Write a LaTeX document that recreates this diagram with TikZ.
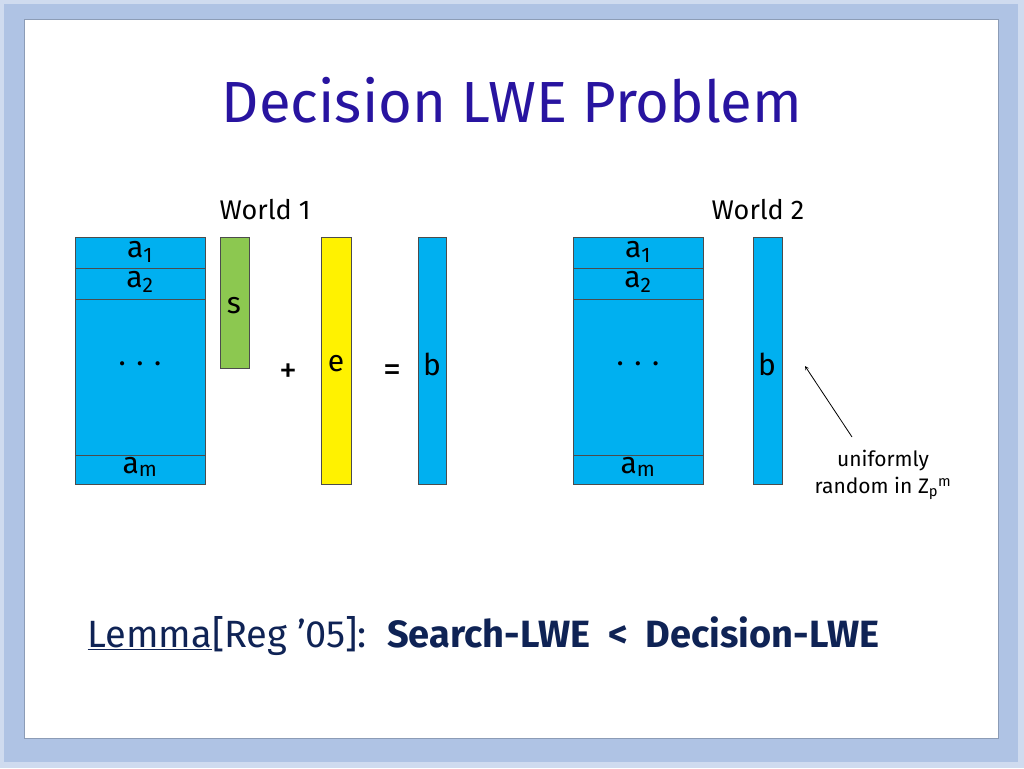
\documentclass[tikz,border=0pt]{standalone}
\usepackage{fontspec}
\setmainfont{Fira Sans}
\begin{document}
\begin{tikzpicture}[x=1pt,y=-1pt,
  cell/.style={draw=black!70,line width=0.6pt,fill=cyanb},
  lbl/.style={font=\fontsize{30}{32}\selectfont,text=black},
  world/.style={font=\fontsize{27}{29}\selectfont}]
\definecolor{cyanb}{RGB}{0,176,240}
\definecolor{frame}{RGB}{175,195,228}
\definecolor{ttl}{RGB}{40,20,160}
\definecolor{navy}{RGB}{15,35,85}
\useasboundingbox (0,0) rectangle (1024,768);
\fill[frame!60] (0,0) rectangle (1024,768);
\fill[frame] (4,4) rectangle (1018,762);
\fill[white] (24,20) rectangle (998,738);
\draw[frame!80!black,line width=1pt] (24,20) rectangle (998,738);
\node[text=ttl,font=\fontsize{58}{62}\selectfont] (title) at (512,100) {Decision LWE Problem};
\node[world] (w1) at (265,210) {World 1};
\node[world] (w2) at (758,210) {World 2};
% left
\draw[cell] (75,237) rectangle (205,484);
\draw[black!70] (75,268) -- (205,268) (75,299) -- (205,299) (75,455) -- (205,455);
\node[lbl] (la1) at (140,252) {a\textsubscript{1}};
\node[lbl] (la2) at (140,282) {a\textsubscript{2}};
\node[lbl] (ld) at (140,364) {. . .};
\node[lbl] (lam) at (140,467) {a\textsubscript{m}};
\draw[draw=black!70,fill={rgb,255:red,140;green,200;blue,80}] (220,237) rectangle (249,368);
\node[lbl] (s) at (234,306) {s};
\node[lbl,font=\fontsize{36}{38}\selectfont] (plus) at (288,373) {+};
\draw[draw=black!70,fill=yellow] (321,237) rectangle (351,484);
\node[lbl] (e) at (336,364) {e};
\node[lbl,font=\fontsize{36}{38}\selectfont] (eq) at (392,373) {=};
\draw[cell] (418,237) rectangle (446,484);
\node[lbl] (b1) at (432,364) {b};
% right
\draw[cell] (573,237) rectangle (703,484);
\draw[black!70] (573,268) -- (703,268) (573,299) -- (703,299) (573,455) -- (703,455);
\node[lbl] (ra1) at (638,252) {a\textsubscript{1}};
\node[lbl] (ra2) at (638,282) {a\textsubscript{2}};
\node[lbl] (rd) at (638,364) {. . .};
\node[lbl] (ram) at (638,467) {a\textsubscript{m}};
\draw[cell] (753,237) rectangle (782,484);
\node[lbl] (b2) at (767,364) {b};
\node[font=\fontsize{21}{23}\selectfont,align=center] (uni) at (883,475) {uniformly\\[4pt]random in Z\textsubscript{p}\textsuperscript{m}};
\coordinate (tip) at (805,366);
\draw[->,>=stealth,line width=0.8pt] (852,437) -- (tip);
\node[anchor=west,text=navy,font=\fontsize{38}{40}\selectfont] (lem) at (84,636)
  {\underline{Lemma}[Reg '05]:\ \ \textbf{Search-LWE\ \ <\ \ Decision-LWE}};
\end{tikzpicture}
\end{document}
